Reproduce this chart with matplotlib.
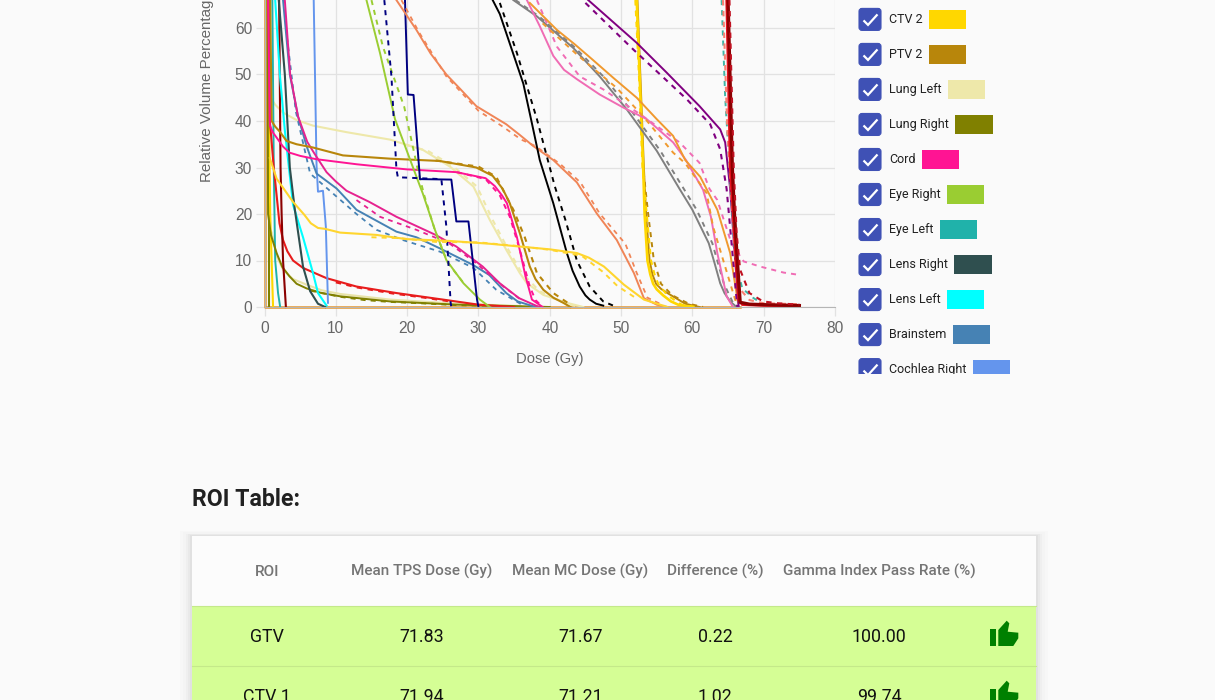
import matplotlib
matplotlib.use("Agg")
from matplotlib import pyplot as plt
from matplotlib.patches import FancyBboxPatch, Polygon, Rectangle

# solid curves are TPS, dashed curves are MC
gtv_dose = [65.0, 65.6, 65.9, 66.3, 66.7, 68, 70, 75]
gtv_vol = [66, 30, 20, 10, 1.0, 0.6, 0.5, 0.3]
gtv_mc_dose = [65.2, 65.8, 66.2, 66.7, 68, 69.9, 72, 75]
gtv_mc_vol = [66, 30, 16, 8, 3, 1.2, 0.8, 0.5]
ctv1_dose = [64.8, 65.3, 65.7, 66.1, 66.5, 67, 70, 75]
ctv1_vol = [66, 30, 20, 10, 1.5, 0.5, 0.3, 0.2]
ptv1_mc_dose = [64.3, 64.9, 65.4, 66, 66.6, 68, 70, 75]
ptv1_mc_vol = [66, 38, 25, 10, 4, 1.5, 0.8, 0.6]
teal_mc_dose = [64.1, 64.6, 65.2, 66, 67, 68.5, 70]
teal_mc_vol = [66, 45, 30, 10, 4, 2, 0.5]

ctv2_dose = [52.2, 52.6, 53.1, 53.3, 53.7, 54.1, 54.5, 55, 55.9, 57, 58, 60]
ctv2_vol = [66, 50, 30, 20, 10, 7, 5, 3.8, 2.5, 1.2, 0.5, 0]
ctv2_mc_dose = [52.0, 52.5, 53.0, 53.6, 54.2, 54.7, 55.2, 56.5, 58.5, 60.5]
ctv2_mc_vol = [66, 50, 30, 20, 10, 7, 5, 2.5, 0.5, 0]
ptv2_high_dose = [52.3, 52.7, 53.2, 53.5, 54, 54.4, 54.9, 55.6, 56.5, 59, 61]
ptv2_high_vol = [66, 50, 30, 20, 10, 7, 5, 3.9, 3, 0.7, 0]
ptv2_high_mc_dose = [52.1, 52.6, 53.1, 53.8, 54.6, 55.6, 57.2, 59.5, 61.5]
ptv2_high_mc_vol = [66, 50, 30, 20, 10, 5, 2.5, 0.7, 0]

ptv2_dose = [0.8, 1.0, 1.5, 2.15, 3.1, 4.5, 6.8, 11, 17.6, 24.6, 29.7, 32, 33.4, 34.4, 35.8, 37.2, 38, 39.1, 40.5, 41.9, 42.9]
ptv2_vol = [66, 40, 38.8, 37.7, 35.7, 35, 34.3, 32.6, 31.9, 31.4, 30, 28.2, 25.4, 22.3, 15.9, 8.7, 6, 3.7, 2, 0.9, 0]
ptv2_mc_dose = [24, 30, 32.5, 34, 34.9, 36.5, 38.2, 40.5, 42.9]
ptv2_mc_vol = [31.5, 30.2, 28, 23.5, 20.9, 15, 7.3, 3, 0.5]

lung_left_dose = [0.5, 0.75, 1.5, 2.6, 4.5, 6.8, 11.5, 17.6, 22.2, 26, 29.3, 31.6, 33.9, 35.8, 36.8, 39.1, 42.4, 44.7]
lung_left_vol = [66, 45.3, 43.5, 41.8, 40.2, 39, 37.6, 36, 33.8, 30.2, 25.9, 18.7, 12.3, 7.3, 5.1, 2.6, 0.9, 0]
lung_left_mc_dose = [20, 23, 26.5, 29.8, 32, 34.2, 36, 38.5, 41, 44]
lung_left_mc_vol = [34.8, 33.5, 30.2, 25.9, 18.7, 12.3, 7.5, 3.5, 1.5, 0]

lung_right_dose = [0.4, 0.5, 0.9, 1.7, 2.5, 3.5, 4.5, 5.9, 8, 10.6, 17.6, 26.9, 35, 40]
lung_right_vol = [66, 20, 15.5, 11.6, 8.6, 6.6, 5, 4, 3, 2.3, 1.2, 0.5, 0.2, 0]
lung_right_mc_dose = [6.5, 10.6, 14, 17.6, 22, 27, 33]
lung_right_mc_vol = [3.5, 2.2, 1.5, 1.1, 0.8, 0.4, 0.2]
pale_dose = [1.0, 1.7, 2.6, 4, 5.9, 8, 10.6, 17.6, 26.9, 36]
pale_vol = [16, 11, 8, 6, 4.8, 3.6, 2.8, 1.6, 0.7, 0.2]

cord_dose = [0.5, 0.75, 1.2, 1.9, 2.6, 3.5, 5, 7.2, 12.9, 19.9, 26.9, 31, 32.3, 33.3, 34, 35.4, 36.6, 37.5, 39]
cord_vol = [66, 39, 37.5, 36, 34.5, 33.2, 32.5, 31.8, 30.7, 29.6, 29, 27.7, 26, 24, 22.3, 15, 6.6, 1.6, 0]
cord_mc_dose = [27, 31, 33, 34.4, 35.8, 37.2, 38, 39]
cord_mc_vol = [29, 27.5, 24, 19.4, 12.3, 4.4, 1.5, 0]

magenta_dose = [2.85, 3.6, 4.7, 6, 7, 8.7, 10, 11.5, 14.7, 18.5, 24, 26.9, 30.6, 33, 35.7, 38.5]
magenta_vol = [66, 50, 41, 35.5, 33, 29, 27, 25, 22.6, 19.4, 15.5, 13, 8.7, 5.1, 1.9, 0]
magenta_mc_dose = [12.9, 16.2, 21.3, 25.9, 29.7, 33, 36]
magenta_mc_vol = [23, 19.4, 16.6, 13.7, 9.4, 5, 1.5]

eye_right_dose = [14.3, 16.2, 18.3, 21.8, 22.2, 23.9, 25.5, 27.9, 30.2, 31.6]
eye_right_vol = [66, 54.6, 40.4, 26, 24.4, 16.6, 10.1, 5.1, 1.6, 0]
eye_right_mc_dose = [15, 16.6, 19.6, 21.5, 22.4, 24, 25.7, 28]
eye_right_mc_vol = [66, 56, 43, 29.5, 24, 16, 9.5, 5]

eye_left_dose = [1.1, 1.3, 1.5, 1.9, 2.2]
eye_left_vol = [66, 30, 10, 3, 0]

lens_right_dose = [2, 2.85, 3.55, 4.25, 5.4, 6.4, 7.5, 8.5]
lens_right_vol = [66, 50, 30, 21, 8.7, 3.4, 0.7, 0]
lens_left_dose = [1.5, 2.15, 2.85, 4, 5.4, 6.8, 7.5, 8.7]
lens_left_vol = [66, 50, 38, 22, 15, 7.3, 3, 0.3]

brainstem_dose = [2.6, 3.55, 4.7, 5.9, 7.3, 10.1, 12.9, 18.5, 21.3, 24.6, 29.3, 31.5, 33.9, 35.5, 38]
brainstem_vol = [66, 50, 41, 34.6, 28.7, 25.5, 20.9, 16.2, 15, 12.6, 9, 6.9, 3, 1.2, 0]
brainstem_mc_dose = [3.0, 4.4, 6.4, 12.9, 15.7, 19.4, 24.6, 29.3, 32.5, 36]
brainstem_mc_vol = [60, 42, 28.7, 20, 16.6, 14.4, 11.9, 8.4, 3.7, 0.6]

cochlea_right_dose = [6.9, 7.3, 7.5, 8.2, 8.6, 8.9]
cochlea_right_vol = [66, 30.4, 24.8, 25, 17.3, 0.9]

navy_dose = [19.7, 20.1, 20.9, 21.3, 21.8, 26.2, 26.9, 28.6, 29.8, 30]
navy_vol = [66, 45.7, 45.6, 37.5, 27.5, 27.4, 18.4, 18.4, 1.6, 0]
navy_mc_dose = [16.8, 17.8, 18.5, 18.7, 24.8, 25.5, 26.1, 26.2]
navy_mc_vol = [66, 49.6, 29.6, 27.9, 27.5, 17.3, 0.9, 0]

coral_dose = [18.5, 21.3, 23.3, 25.5, 27.5, 29.7, 33.9, 35.8, 37.7, 40.5, 43.8, 46.6, 49.4, 51.8, 53.2, 55, 56.5]
coral_vol = [66, 59.6, 54.5, 50, 46.8, 43.2, 39.3, 37, 34.6, 31.6, 26.8, 20.1, 14.4, 7.3, 1.9, 0.5, 0]
coral_mc_dose = [19.2, 21.7, 25.5, 30, 33.4, 36, 38, 41.5, 44.3, 47, 50.6, 52.2, 53.7, 56]
coral_mc_vol = [66, 59, 49.6, 42.2, 38.8, 36, 34.6, 30.7, 26.8, 20.1, 13.6, 7.3, 2, 0.3]

black_dose = [32, 33, 36.3, 37.5, 38.6, 40.5, 42.4, 43.2, 44.2, 45, 45.6, 46.5, 47.5]
black_vol = [66, 63, 48, 39.5, 31.6, 22.3, 11.6, 7.8, 4.4, 2.5, 1.6, 0.7, 0.3]
black_mc_dose = [33, 35.4, 38.2, 40.7, 42.2, 43.8, 45.6, 47.5, 48.9]
black_mc_vol = [65.4, 54.6, 40.4, 26, 18.7, 10, 4.4, 1.2, 0.3]

gold_dose = [0.75, 1.7, 4, 5.6, 6.5, 7.5, 8.5, 10.6, 15.7, 19.9, 26, 31.6, 35.8, 40, 43.8, 45.5, 47.6, 50.4, 53.2, 56.5]
gold_vol = [32, 27.6, 22.6, 19.8, 18, 17, 16.8, 16, 15.5, 14.6, 14.2, 13.6, 13, 12.4, 11.6, 10.6, 8.7, 4.8, 1.6, 0]
gold_mc_dose = [15, 19, 24, 30, 35, 40, 44.5, 47.5, 49.5, 52]
gold_mc_vol = [15, 14.8, 14, 13.9, 13.2, 12.3, 11, 7.5, 4.5, 2]

gray_dose = [34.9, 38.2, 43.3, 47, 50.8, 55, 58.2, 60, 62.3, 63.1, 63.9, 64.5, 65.3, 66.2]
gray_vol = [66, 62.5, 55.7, 49.6, 42.5, 33.6, 25.4, 20.9, 13.7, 9.5, 5.1, 3, 1.2, 0]
gray_mc_dose = [35.2, 38.5, 43.6, 47.5, 51.3, 55.5, 58.8, 60.6, 62.8, 64.4, 65.6, 66.4]
gray_mc_vol = [66, 62.5, 55.7, 49.6, 42.5, 33.6, 25.4, 20.9, 13.7, 5.1, 1.2, 0]

orange_dose = [37.2, 41, 43.5, 46, 48.9, 52.2, 55, 57.3, 59, 61.1, 63.5, 65.3, 66.4]
orange_vol = [65.4, 59.6, 56.5, 53.2, 49.3, 45, 40.4, 36.8, 31.6, 28, 20.9, 11.6, 0.9]
orange_mc_dose = [39, 44.1, 49.4, 53.1, 57.3, 59, 62, 62.9, 65.3, 66.2]
orange_mc_vol = [61, 53.9, 47.1, 41, 33.2, 30.9, 24.5, 17.3, 5.1, 0.6]

pink_dose = [36.8, 38.6, 40.5, 42, 43.8, 47, 50.3, 53.6, 57.3, 59.1, 61.5, 62.6, 63.5, 64.8, 65.7]
pink_vol = [66, 60.4, 54, 51, 49, 45.7, 42.9, 40.4, 35.4, 31.6, 25.2, 19.4, 11.6, 2.3, 0]
pink_mc_dose = [38.2, 41, 44.2, 47.5, 53.1, 58.2, 61, 62.4, 63.5, 65.5, 67.2, 69.5, 72.8, 75]
pink_mc_vol = [66, 56, 49.6, 46.8, 41, 35.4, 31, 25.4, 23, 13.6, 9.8, 8.7, 7.4, 6.9]

purple_dose = [45.4, 52.2, 56.4, 61, 63.9, 64.6, 65.3, 66, 66.5]
purple_vol = [66, 56.8, 50.4, 43.2, 38.2, 35.4, 25.4, 10, 0]
purple_mc_dose = [45, 51.7, 59.2, 62.5, 63.9, 64.8, 65.6, 66.3]
purple_mc_vol = [65.4, 55.4, 44.7, 39.3, 33.9, 25.4, 12, 0]

dark_red_dose = [2.05, 2.25, 2.4, 2.6, 3]
dark_red_vol = [66, 30, 20, 10, 0]
red_dose = [0.6, 0.75, 1.3, 1.7, 2.1, 2.6, 3.2, 4, 5.4, 8.7, 12.9, 18.5, 25, 30, 35]
red_vol = [66, 40, 30, 24, 18, 14.4, 12, 10, 8.4, 6.2, 4.4, 3, 1.6, 0.5, 0]
red_mc_dose = [10, 13, 18, 22, 26]
red_mc_vol = [5.3, 4.2, 2.9, 2.1, 1.2]

olive_step_dose = [0.65, 0.65]
olive_step_vol = [66, 0]
gold_step_dose = [0.4, 0.8, 1.2]
gold_step_vol = [66, 20, 0]
baseline_dose = [0, 0, 66.7]
baseline_vol = [66, 0, 0]

x_ticks = [0, 10, 20, 30, 40, 50, 60, 70, 80]
y_ticks = [0, 10, 20, 30, 40, 50, 60]

legend_names = ["CTV 2", "PTV 2", "Lung Left", "Lung Right", "Cord", "Eye Right", "Eye Left",
                "Lens Right", "Lens Left", "Brainstem", "Cochlea Right"]
legend_colors = ["#FFD700", "#B8860B", "#EEE8AA", "#808000", "#FF1493", "#9ACD32", "#20B2AA",
                 "#2F4F4F", "#00FFFF", "#4682B4", "#6495ED"]

table_headers = ["ROI", "Mean TPS Dose (Gy)", "Mean MC Dose (Gy)", "Difference (%)", "Gamma Index Pass Rate (%)"]
roi_names = ["GTV", "CTV 1"]
mean_tps = ["71.83", "71.94"]
mean_mc = ["71.67", "71.21"]
difference = ["0.22", "1.02"]
gamma_rate = ["100.00", "99.74"]

curves = [
    (baseline_dose, baseline_vol, "#E8962A", "-", 1.8),
    (lung_left_dose, lung_left_vol, "#EEE8AA", "-", 1.5),
    (lung_left_mc_dose, lung_left_mc_vol, "#EEE8AA", "--", 1.5),
    (pale_dose, pale_vol, "#E8E3A8", "-", 1.5),
    (olive_step_dose, olive_step_vol, "#808000", "-", 1.5),
    (gold_step_dose, gold_step_vol, "#FFD700", "-", 1.5),
    (eye_left_dose, eye_left_vol, "#20B2AA", "-", 1.4),
    (lung_right_dose, lung_right_vol, "#808000", "-", 1.4),
    (lung_right_mc_dose, lung_right_mc_vol, "#808000", "--", 1.4),
    (red_dose, red_vol, "#E81C1C", "-", 1.5),
    (red_mc_dose, red_mc_vol, "#E81C1C", "--", 1.5),
    (dark_red_dose, dark_red_vol, "#8B0000", "-", 1.5),
    (lens_left_dose, lens_left_vol, "#00FFFF", "-", 1.5),
    (lens_right_dose, lens_right_vol, "#2F4F4F", "-", 1.5),
    (cochlea_right_dose, cochlea_right_vol, "#6495ED", "-", 1.4),
    (brainstem_dose, brainstem_vol, "#4682B4", "-", 1.4),
    (brainstem_mc_dose, brainstem_mc_vol, "#4682B4", "--", 1.3),
    (magenta_dose, magenta_vol, "#E6228F", "-", 1.4),
    (magenta_mc_dose, magenta_mc_vol, "#E6228F", "--", 1.3),
    (ptv2_dose, ptv2_vol, "#B8860B", "-", 1.5),
    (ptv2_mc_dose, ptv2_mc_vol, "#B8860B", "--", 1.5),
    (cord_dose, cord_vol, "#FF1493", "-", 1.4),
    (cord_mc_dose, cord_mc_vol, "#FF1493", "--", 1.4),
    (eye_right_dose, eye_right_vol, "#9ACD32", "-", 1.4),
    (eye_right_mc_dose, eye_right_mc_vol, "#9ACD32", "--", 1.4),
    (navy_dose, navy_vol, "#000080", "-", 1.4),
    (navy_mc_dose, navy_mc_vol, "#000080", "--", 1.4),
    (coral_dose, coral_vol, "#F08557", "-", 1.4),
    (coral_mc_dose, coral_mc_vol, "#F08557", "--", 1.3),
    (black_dose, black_vol, "#000000", "-", 1.4),
    (black_mc_dose, black_mc_vol, "#000000", "--", 1.4),
    (gold_dose, gold_vol, "#FFD52E", "-", 1.5),
    (gold_mc_dose, gold_mc_vol, "#FFD52E", "--", 1.4),
    (ptv2_high_dose, ptv2_high_vol, "#B8860B", "-", 1.4),
    (ptv2_high_mc_dose, ptv2_high_mc_vol, "#B8860B", "--", 1.4),
    (ctv2_dose, ctv2_vol, "#FFD700", "-", 1.9),
    (ctv2_mc_dose, ctv2_mc_vol, "#FFD700", "--", 1.5),
    (gray_dose, gray_vol, "#808080", "-", 1.4),
    (gray_mc_dose, gray_mc_vol, "#808080", "--", 1.4),
    (pink_dose, pink_vol, "#F06CB4", "-", 1.4),
    (pink_mc_dose, pink_mc_vol, "#F06CB4", "--", 1.4),
    (orange_dose, orange_vol, "#F0992E", "-", 1.4),
    (orange_mc_dose, orange_mc_vol, "#F0992E", "--", 1.4),
    (purple_dose, purple_vol, "#800080", "-", 1.4),
    (purple_mc_dose, purple_mc_vol, "#800080", "--", 1.5),
    (teal_mc_dose, teal_mc_vol, "#3FB5A5", "--", 1.4),
    (ptv1_mc_dose, ptv1_mc_vol, "#FA8072", "--", 1.5),
    (ctv1_dose, ctv1_vol, "#E8101C", "-", 1.8),
    (gtv_dose, gtv_vol, "#8B0000", "-", 2.4),
    (gtv_mc_dose, gtv_mc_vol, "#C01020", "--", 1.5),
]

W, H = 1215, 700
BG = "#FAFAFA"
fig = plt.figure(figsize=(W / 100, H / 100), dpi=100, facecolor=BG)

# the page furniture is placed in pixels on one full-size axes
page = fig.add_axes([0, 0, 1, 1], zorder=0)
page.set_xlim(0, W)
page.set_ylim(H, 0)
page.axis("off")

# dose-volume chart, cut by the top of the page
ax = fig.add_axes([264.5 / W, (H - 307) / H, (835 - 264.5) / W, 307 / H], zorder=1)
ax.patch.set_alpha(0)
ax.set_xlim(0, 80)
ax.set_ylim(0, 307 / 4.65)
for dose, vol, color, style, width in curves:
    if style == "--":
        ax.plot(dose, vol, color=color, lw=width, linestyle=(0, (2.6, 2.6)), clip_on=False)
    else:
        ax.plot(dose, vol, color=color, lw=width, clip_on=False, solid_joinstyle="round")

for side in ["top", "right"]:
    ax.spines[side].set_visible(False)
for side in ["left", "bottom"]:
    ax.spines[side].set_color("#B5B5B5")
ax.set_xticks(x_ticks)
ax.set_yticks(y_ticks)
ax.grid(True, color="#E2E2E2", lw=0.9)
ax.set_axisbelow(True)
ax.tick_params(axis="x", length=6.5, width=0.9, color="#E2E2E2", labelcolor="#666666", labelsize=11.2, pad=3.5)
ax.tick_params(axis="y", length=6.5, width=0.9, color="#E2E2E2", labelcolor="#666666", labelsize=11.2, pad=2.5)
for label in ax.get_xticklabels() + ax.get_yticklabels():
    label.set_family("Liberation Sans")

page.text(549.5, 359, "Dose (Gy)", ha="center", va="center", color="#666666", fontsize=10.6,
          family="Liberation Sans")
page.text(206.5, 182, "Relative Volume Percentage", rotation=90, ha="center", va="bottom", color="#666666",
          fontsize=10.9, family="Liberation Sans")

# checkbox legend, scrolled so the last row is cut off
for i, name in enumerate(legend_names):
    cy = 19.4 + i * 35.02
    box = FancyBboxPatch((859, cy - 11), 22, 22, boxstyle="round,pad=0,rounding_size=3",
                         facecolor="#3F51B5", edgecolor="#3F51B5", lw=0.8)
    page.add_patch(box)
    page.plot([863.5, 868, 877.5], [cy + 1, cy + 5.5, cy - 5], color="white", lw=1.6,
              solid_capstyle="butt", solid_joinstyle="miter")
    label = page.text(889.2, cy + 0.4, name, ha="left", va="center", color="#212121", fontsize=9, family="Roboto")
    right = label.get_window_extent(fig.canvas.get_renderer()).x1
    page.add_patch(Rectangle((right + 6, cy - 9.2), 37.5, 18.5, facecolor=legend_colors[i], edgecolor="none"))
page.add_patch(Rectangle((850, 374), 185, 30, facecolor=BG, edgecolor="none", zorder=5))

page.text(192, 499.5, "ROI Table:", ha="left", va="center", color="#212121", fontsize=16.7, weight="bold",
          family="Roboto")

# soft card shadow
card_left, card_right, card_top = 192, 1036, 536
for grow, alpha in [(12, 0.01), (9, 0.013), (6, 0.018), (4, 0.024), (2, 0.03)]:
    page.add_patch(Rectangle((card_left - grow, card_top - grow * 0.4), card_right - card_left + 2 * grow,
                             H - card_top + 40, facecolor="black", alpha=alpha, edgecolor="none"))
page.add_patch(Rectangle((card_left, card_top), card_right - card_left, 70, facecolor="#FCFCFC", edgecolor="none"))

column_x = [267, 422, 580.5, 715, 879]
for x, head in zip(column_x, table_headers):
    page.text(x, 571.5, head, ha="center", va="center", color="#757575", fontsize=11, weight="medium",
              family="Roboto")

thumb_body = [(998.3, -6), (1006.7, -15.3), (1009.3, -12.7), (1007.7, -4.3), (1018.3, -3.3),
              (1018.3, 2.3), (1013.3, 10), (998.3, 10)]
for i in range(len(roi_names)):
    top = 606 + i * 60
    page.add_patch(Rectangle((card_left, top), card_right - card_left, 60, facecolor="#D5FE95", edgecolor="none"))
    page.plot([card_left, card_right], [top, top], color="#C4E98A", lw=0.8)
    cy = top + 30
    row = [roi_names[i], mean_tps[i], mean_mc[i], difference[i], gamma_rate[i]]
    for x, value in zip(column_x, row):
        page.text(x, cy + 1, value, ha="center", va="center", color="#111111", fontsize=12.8, family="Roboto")
    page.add_patch(Polygon([(x, cy + y) for x, y in thumb_body], closed=True, facecolor="#008000", edgecolor="none"))
    page.add_patch(Rectangle((990, cy - 7), 5.8, 17, facecolor="#008000", edgecolor="none"))

fig.savefig("out.png", dpi=100, facecolor=BG)
